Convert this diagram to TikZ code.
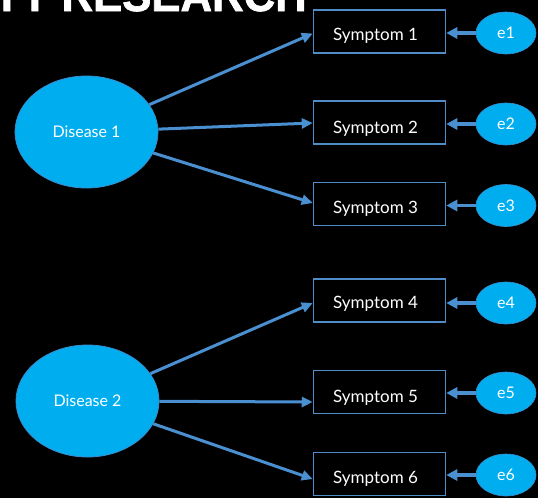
\documentclass[tikz,border=0pt]{standalone}
\usepackage{fontspec}
\setmainfont{Lato}
\newfontfamily\headfont[FakeBold=1.5]{Liberation Sans}
\usetikzlibrary{arrows.meta,shapes.geometric}

\definecolor{linkblue}{RGB}{74,144,208}
\definecolor{boxblue}{RGB}{80,140,200}
\definecolor{bubble}{RGB}{0,174,239}
\definecolor{rimblue}{RGB}{60,140,205}

\tikzset{
  latent/.style={ellipse, fill=bubble, draw=rimblue, line width=0.8pt,
    minimum width=143pt, minimum height=112pt, inner sep=0pt,
    text=white, font=\fontsize{16}{16}\selectfont},
  errnode/.style={ellipse, fill=bubble, draw=rimblue, line width=0.6pt,
    minimum width=60pt, minimum height=42pt, inner sep=0pt,
    text=white, font=\fontsize{16}{16}\selectfont},
  symbox/.style={rectangle, draw=boxblue, line width=1.5pt, fill=black,
    minimum width=132pt, minimum height=43pt, inner sep=0pt},
  symtxt/.style={text=white, inner sep=0pt, font=\fontsize{17}{17}\selectfont},
  link/.style={draw=linkblue, line width=3pt, -{Triangle[length=11pt,width=10pt]}},
  errlink/.style={draw=linkblue, line width=3.5pt, -{Triangle[length=11pt,width=11pt]}},
}

\begin{document}
\begin{tikzpicture}[x=1pt, y=-1pt]
  \fill[black] (0,0) rectangle (538,498);
  \useasboundingbox (0,0) rectangle (538,498);

  % heading, running off the top edge
  \begin{scope}
    \clip (0,0) rectangle (538,498);
    \node[anchor=base east, inner sep=0pt, text=white,
      font=\headfont\bfseries\fontsize{46}{46}\selectfont, xscale=0.95]
      (head) at (307,11) {TY RESEARCH};
  \end{scope}

  % latent variables
  \node[latent] (d1) at (86.5,132) {Disease 1};
  \node[latent] (d2) at (87.5,401) {Disease 2};

  % observed symptoms
  \node[symbox] (s1) at (379.5,31.5) {};
  \node[symbox] (s2) at (379.5,122.5) {};
  \node[symbox] (s3) at (379.5,204) {};
  \node[symbox] (s4) at (379.5,300.5) {};
  \node[symbox] (s5) at (379.5,392) {};
  \node[symbox] (s6) at (379.5,474) {};
  \node[symtxt] (s1t) at ([xshift=-4pt,yshift=-4pt]s1.center) {Symptom 1};
  \node[symtxt] (s2t) at ([xshift=-4pt,yshift=-6pt]s2.center) {Symptom 2};
  \node[symtxt] (s3t) at ([xshift=-4pt,yshift=-5pt]s3.center) {Symptom 3};
  \node[symtxt] (s4t) at ([xshift=-4pt,yshift=-3.5pt]s4.center) {Symptom 4};
  \node[symtxt] (s5t) at ([xshift=-4pt,yshift=-6pt]s5.center) {Symptom 5};
  \node[symtxt] (s6t) at ([xshift=-4pt,yshift=-5pt]s6.center) {Symptom 6};

  % error terms
  \node[errnode] (e1) at (506,33) {e1};
  \node[errnode] (e2) at (506,124) {e2};
  \node[errnode] (e3) at (506,205.5) {e3};
  \node[errnode] (e4) at (506,303) {e4};
  \node[errnode] (e5) at (506,393) {e5};
  \node[errnode] (e6) at (506,475) {e6};

  % loadings
  \draw[link] (d1) -- ([yshift=-2pt]s1.west);
  \draw[link] (d1) -- ([yshift=-0.5pt]s2.west);
  \draw[link] (d1) -- ([yshift=1pt]s3.west);
  \draw[link] (d2) -- ([yshift=-2.5pt]s4.west);
  \draw[link] (d2) -- ([yshift=-10pt]s5.west);
  \draw[link] (d2) -- ([yshift=-5pt]s6.west);

  % residuals
  \draw[errlink] (e1) -- (e1 -| s1.east);
  \draw[errlink] (e2) -- (e2 -| s2.east);
  \draw[errlink] (e3) -- (e3 -| s3.east);
  \draw[errlink] (e4) -- (e4 -| s4.east);
  \draw[errlink] (e5) -- (e5 -| s5.east);
  \draw[errlink] (e6) -- (e6 -| s6.east);
\end{tikzpicture}
\end{document}
